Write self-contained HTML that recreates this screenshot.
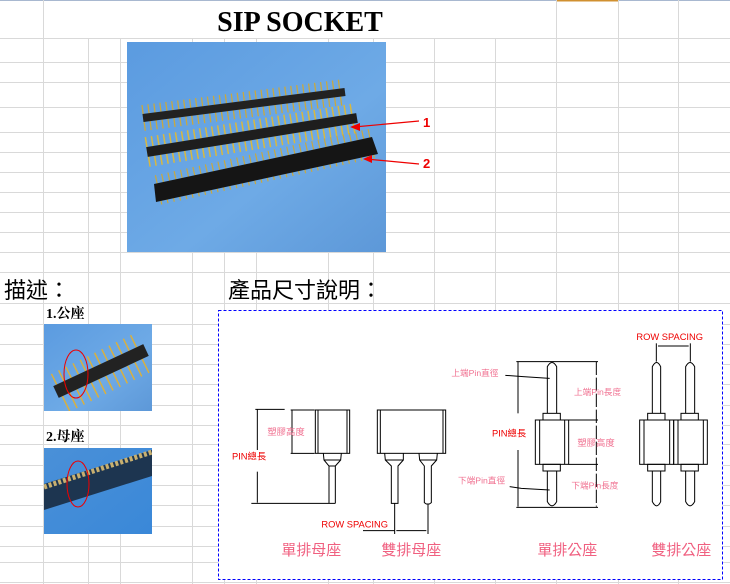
<!DOCTYPE html>
<html><head><meta charset="utf-8"><style>
html,body{margin:0;padding:0;background:#fff;}
svg{display:block}
.cj{font-family:"Liberation Serif","Noto Serif CJK SC","Noto Sans CJK TC",serif;}
.cjk{font-family:"Noto Sans CJK TC","Noto Serif CJK SC",sans-serif;}
.ds{font-family:"Liberation Sans","Noto Sans CJK TC",sans-serif;}
</style></head><body>
<svg width="730" height="584" viewBox="0 0 730 584" xmlns="http://www.w3.org/2000/svg">
<defs>
<linearGradient id="bg" x1="0" y1="0" x2="1" y2="1"><stop offset="0" stop-color="#5b9be0"/><stop offset="0.6" stop-color="#6eaae6"/><stop offset="1" stop-color="#5d98d8"/></linearGradient>
<linearGradient id="bg2" x1="0" y1="0" x2="1" y2="1"><stop offset="0" stop-color="#4a90d8"/><stop offset="1" stop-color="#3a88d8"/></linearGradient>
<clipPath id="c1"><rect x="127" y="42" width="259" height="210"/></clipPath>
<clipPath id="c2"><rect x="44" y="324" width="108" height="87"/></clipPath>
<clipPath id="c3"><rect x="44" y="448" width="108" height="86"/></clipPath>
</defs>
<rect width="730" height="584" fill="#fff"/>
<g stroke="#d9d9d9" stroke-width="1">
<line x1="0" y1="0.5" x2="730" y2="0.5" stroke="#a8b8d0"/>
<line x1="556" y1="0.5" x2="618" y2="0.5" stroke="#d09030" stroke-width="2"/>
<line x1="43.5" y1="0" x2="43.5" y2="38"/>
<line x1="556.5" y1="0" x2="556.5" y2="38"/>
<line x1="618.5" y1="0" x2="618.5" y2="38"/>
<line x1="678.5" y1="0" x2="678.5" y2="38"/>
<g>
<line x1="43.5" y1="38" x2="43.5" y2="584"/><line x1="88.5" y1="38" x2="88.5" y2="584"/>
<line x1="120.5" y1="38" x2="120.5" y2="584"/><line x1="192.5" y1="38" x2="192.5" y2="584"/>
<line x1="224.5" y1="38" x2="224.5" y2="584"/><line x1="256.5" y1="38" x2="256.5" y2="584"/>
<line x1="328.5" y1="38" x2="328.5" y2="584"/><line x1="373.5" y1="38" x2="373.5" y2="584"/>
<line x1="434.5" y1="38" x2="434.5" y2="584"/><line x1="495.5" y1="38" x2="495.5" y2="584"/>
<line x1="556.5" y1="38" x2="556.5" y2="584"/><line x1="618.5" y1="38" x2="618.5" y2="584"/>
<line x1="678.5" y1="38" x2="678.5" y2="584"/>
</g>
<g>
<line x1="0" y1="38.5" x2="730" y2="38.5"/><line x1="0" y1="62.5" x2="730" y2="62.5"/>
<line x1="0" y1="82.5" x2="730" y2="82.5"/><line x1="0" y1="107.5" x2="730" y2="107.5"/>
<line x1="0" y1="132.5" x2="730" y2="132.5"/><line x1="0" y1="152.5" x2="730" y2="152.5"/>
<line x1="0" y1="172.5" x2="730" y2="172.5"/><line x1="0" y1="192.5" x2="730" y2="192.5"/>
<line x1="0" y1="212.5" x2="730" y2="212.5"/><line x1="0" y1="232.5" x2="730" y2="232.5"/>
<line x1="0" y1="252.5" x2="730" y2="252.5"/><line x1="0" y1="272.5" x2="730" y2="272.5"/>
<line x1="0" y1="303.5" x2="730" y2="303.5"/><line x1="0" y1="324.5" x2="730" y2="324.5"/>
<line x1="0" y1="344.5" x2="730" y2="344.5"/><line x1="0" y1="364.5" x2="730" y2="364.5"/>
<line x1="0" y1="384.5" x2="730" y2="384.5"/><line x1="0" y1="405.5" x2="730" y2="405.5"/>
<line x1="0" y1="425.5" x2="730" y2="425.5"/><line x1="0" y1="444.5" x2="730" y2="444.5"/>
<line x1="0" y1="465.5" x2="730" y2="465.5"/><line x1="0" y1="485.5" x2="730" y2="485.5"/>
<line x1="0" y1="505.5" x2="730" y2="505.5"/><line x1="0" y1="526.5" x2="730" y2="526.5"/>
<line x1="0" y1="546.5" x2="730" y2="546.5"/><line x1="0" y1="562.5" x2="730" y2="562.5"/>
<line x1="0" y1="582.5" x2="730" y2="582.5"/>
</g>
</g>
<rect x="0" y="273" width="42" height="30" fill="#fff"/>
<text x="300" y="31" text-anchor="middle" class="cj" font-size="28" font-weight="bold" fill="#000">SIP SOCKET</text>

<rect x="127" y="42" width="259" height="210" fill="url(#bg)"/>
<g clip-path="url(#c1)">
<line x1="143" y1="118" x2="345" y2="92" stroke="#c8a840" stroke-width="26" stroke-dasharray="1.3 4.7"/>
<line x1="143" y1="118" x2="345" y2="92" stroke="#222" stroke-width="8"/>
<line x1="147" y1="152" x2="357" y2="118" stroke="#d8b840" stroke-width="30" stroke-dasharray="1.5 4.6"/>
<line x1="147" y1="152" x2="357" y2="118" stroke="#1e1e1e" stroke-width="10"/>
<line x1="158" y1="190" x2="374" y2="143" stroke="#c8a840" stroke-width="30" stroke-dasharray="1.2 5.2"/>
<polygon points="154,184 372,137 378,154 156,202" fill="#151515"/>
</g>
<g stroke="#e00" stroke-width="1.2"><line x1="354" y1="127" x2="419" y2="121"/><line x1="366" y1="159" x2="419" y2="164"/></g>
<polygon points="350,127 360,123 360,131" fill="#e00"/>
<polygon points="363,159 372,155 372,163" fill="#e00"/>
<text x="423" y="127" class="ds" font-size="13" font-weight="bold" fill="#e00">1</text>
<text x="423" y="168" class="ds" font-size="13" font-weight="bold" fill="#e00">2</text>

<text x="4" y="298" class="cjk" font-size="22" fill="#000">描述：</text>
<text x="228" y="298" class="cjk" font-size="22" fill="#000">產品尺寸說明：</text>
<text x="46" y="318" class="cj" font-size="14" font-weight="bold" fill="#000">1.公座</text>
<text x="46" y="441" class="cj" font-size="14" font-weight="bold" fill="#000">2.母座</text>

<rect x="44" y="324" width="108" height="87" fill="url(#bg)"/>
<g clip-path="url(#c2)">
<line x1="60" y1="393" x2="146" y2="351" stroke="#d8b040" stroke-width="42" stroke-dasharray="1.5 6.5"/>
<line x1="56" y1="392" x2="146" y2="350" stroke="#222" stroke-width="13"/>
</g>
<ellipse cx="76" cy="374" rx="12" ry="24" fill="none" stroke="#e00" stroke-width="1"/>
<rect x="44" y="448" width="108" height="86" fill="url(#bg2)"/>
<g clip-path="url(#c3)">
<polygon points="44,484 152,450 152,476 44,510" fill="#1d3550"/>
<line x1="44" y1="487" x2="152" y2="452" stroke="#c8b070" stroke-width="5" stroke-dasharray="3 2"/>
</g>
<ellipse cx="78" cy="484" rx="11" ry="23" fill="none" stroke="#e00" stroke-width="1"/>

<rect x="218.5" y="310.5" width="504" height="269" fill="#fff" stroke="#00f" stroke-width="1" stroke-dasharray="3 2"/>

<g transform="translate(218,310) scale(0.33333)" fill="none" stroke="#000" stroke-width="3">
<rect x="292" y="300" width="103" height="130"/><line x1="300" y1="300" x2="300" y2="430"/><line x1="387" y1="300" x2="387" y2="430"/>
<polyline points="316,430 318,450 333,468 333,580"/><polyline points="370,430 368,450 352,468 352,580"/>
<line x1="318" y1="450" x2="368" y2="450"/><line x1="333" y1="468" x2="352" y2="468"/>
<line x1="100" y1="580" x2="352" y2="580"/>
<line x1="112" y1="298" x2="200" y2="298"/>
<line x1="118" y1="298" x2="118" y2="420"/><line x1="118" y1="485" x2="118" y2="578"/>
<line x1="218" y1="300" x2="290" y2="300"/><line x1="218" y1="430" x2="290" y2="430"/>
<line x1="222" y1="300" x2="222" y2="430"/>
<rect x="478" y="300" width="205" height="130"/><line x1="487" y1="300" x2="487" y2="430"/><line x1="675" y1="300" x2="675" y2="430"/>
<polyline points="500,430 502,450 520,468 520,580 540,580 540,468 556,450 556,430"/>
<polyline points="603,430 605,450 619,468 619,578 625,582 634,582 640,578 640,468 656,450 658,430"/>
<line x1="502" y1="450" x2="556" y2="450"/><line x1="605" y1="450" x2="656" y2="450"/>
<line x1="530" y1="580" x2="530" y2="672"/><line x1="630" y1="582" x2="630" y2="672"/>
<line x1="435" y1="662" x2="530" y2="662"/><line x1="535" y1="662" x2="625" y2="662"/>
<rect x="952" y="330" width="100" height="133"/><line x1="965" y1="330" x2="965" y2="463"/><line x1="1040" y1="330" x2="1040" y2="463"/>
<rect x="975" y="310" width="52" height="20"/><rect x="975" y="463" width="52" height="20"/>
<path d="M988 310 V170 Q1002 145 1016 170 V310"/><path d="M988 483 V575 Q1002 600 1016 575 V483"/>
<line x1="895" y1="155" x2="1140" y2="155"/><line x1="895" y1="592" x2="1140" y2="592"/>
<line x1="900" y1="155" x2="900" y2="310"/><line x1="900" y1="420" x2="900" y2="590"/>
<line x1="1135" y1="155" x2="1135" y2="590" stroke-dasharray="40 8"/>
<line x1="1052" y1="330" x2="1140" y2="330"/><line x1="1052" y1="463" x2="1140" y2="463"/>
<polyline points="862,196 915,200 995,205"/><polyline points="875,530 910,535 995,540"/>
<rect x="1265" y="330" width="102" height="133"/><rect x="1367" y="330" width="101" height="133"/>
<line x1="1278" y1="330" x2="1278" y2="463"/><line x1="1355" y1="330" x2="1355" y2="463"/>
<line x1="1380" y1="330" x2="1380" y2="463"/><line x1="1456" y1="330" x2="1456" y2="463"/>
<rect x="1289" y="310" width="52" height="20"/><rect x="1389" y="310" width="52" height="20"/>
<rect x="1289" y="463" width="52" height="20"/><rect x="1389" y="463" width="52" height="20"/>
<path d="M1303 310 V170 Q1316 145 1328 170 V310"/><path d="M1403 310 V170 Q1416 145 1430 170 V310"/>
<path d="M1303 483 V575 Q1316 600 1328 575 V483"/><path d="M1403 483 V575 Q1416 600 1430 575 V483"/>
<line x1="1315" y1="100" x2="1315" y2="155"/><line x1="1417" y1="100" x2="1417" y2="155"/>
<line x1="1320" y1="108" x2="1412" y2="108"/>
</g>
<g transform="translate(218,310) scale(0.33333)" class="ds">
<text x="42" y="448" font-size="28" fill="#e00">PIN總長</text>
<text x="148" y="375" font-size="28" fill="#f07090">塑膠高度</text>
<text x="310" y="652" font-size="28" fill="#e00">ROW SPACING</text>
<text x="700" y="198" font-size="26" fill="#f07090">上端Pin直徑</text>
<text x="1068" y="255" font-size="26" fill="#f07090">上端Pin長度</text>
<text x="822" y="380" font-size="28" fill="#e00">PIN總長</text>
<text x="1078" y="408" font-size="28" fill="#f07090">塑膠高度</text>
<text x="720" y="520" font-size="26" fill="#f07090">下端Pin直徑</text>
<text x="1060" y="535" font-size="26" fill="#f07090">下端Pin長度</text>
<text x="1255" y="90" font-size="28" fill="#e00">ROW SPACING</text>
<text x="190" y="735" font-size="45" fill="#f06080">單排母座</text>
<text x="490" y="735" font-size="45" fill="#f06080">雙排母座</text>
<text x="958" y="735" font-size="45" fill="#f06080">單排公座</text>
<text x="1300" y="735" font-size="45" fill="#f06080">雙排公座</text>
</g>
</svg>
</body></html>
